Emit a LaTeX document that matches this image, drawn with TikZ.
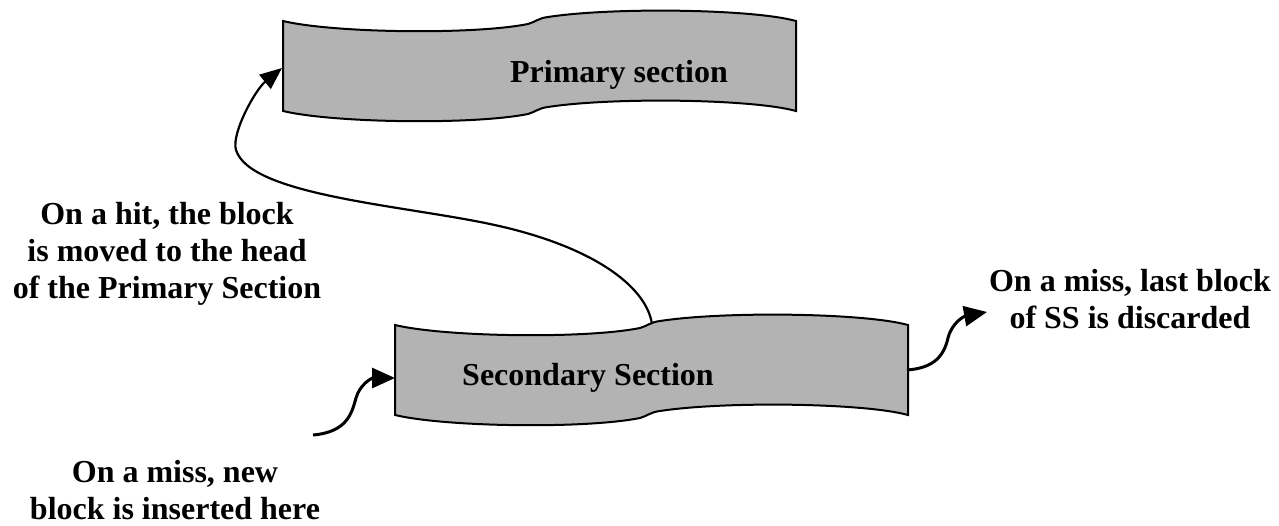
\documentclass[tikz,border=0pt]{standalone}
\usepackage{fontspec}
\setmainfont{Liberation Serif}
\usetikzlibrary{arrows.meta}
\definecolor{tapegray}{RGB}{179,179,179}
\tikzset{
  tapeline/.style={draw=black, fill=tapegray, line width=2pt, line join=miter},
  tape/.pic={
    \draw[tapeline] (0,0) .. controls (50,12) and (190,14) .. (245,3)
      .. controls (252,1) and (256,-3) .. (265,-4)
      .. controls (330,-14) and (470,-12) .. (513,0)
      -- (513,90)
      .. controls (470,78) and (330,76) .. (265,86)
      .. controls (256,87) and (252,91) .. (245,93)
      .. controls (190,104) and (50,102) .. (0,90) -- cycle;
  },
  arc/.style={line width=2.2pt, -{Triangle[length=22pt,width=18pt]}},
  conn/.style={line width=3pt, -{Triangle[length=23pt,width=20pt]}},
  lbl/.style={font=\bfseries\fontsize{32}{37}\selectfont, align=center, inner sep=0pt, anchor=base},
}
\begin{document}
\begin{tikzpicture}[x=1pt,y=-1pt]
\useasboundingbox (0,0) rectangle (1279,525);
% shapes
\pic (ps) at (283,21) {tape};
\pic (ss) at (395,325) {tape};
% connector end points
\coordinate (ps-in) at (282,68);
\coordinate (ss-top) at (652,324);
\coordinate (ss-in) at (395,378);
\coordinate (ss-out) at (907,370);
\coordinate (in-start) at (313,435);
\coordinate (out-end) at (987,312);
% texts
\node[lbl] (pstext) at (619,82.3) {Primary section};
\node[lbl] (sstext) at (588,385.7) {Secondary Section};
\node[lbl] (hit) at (167,298.3) {On a hit, the block\\is moved to the head\\of the Primary Section};
\node[lbl] (disc) at (1130,328) {On a miss, last block\\of SS is discarded};
\node[lbl] (ins) at (175,519) {On a miss, new\\block is inserted here};
% connectors
\draw[arc] (ss-top) .. controls (646,285) and (590,245) .. (490,224)
  .. controls (400,205) and (250,195) .. (236,150)
  .. controls (231,134) and (255,90) .. (ps-in);
\draw[conn] (in-start) .. controls (348,432) and (352,412) .. (356,398)
  .. controls (360,384) and (372,378) .. (ss-in);
\draw[conn] (ss-out) .. controls (935,368) and (944,355) .. (948,338)
  .. controls (952,322) and (965,316) .. (out-end);
\end{tikzpicture}
\end{document}
